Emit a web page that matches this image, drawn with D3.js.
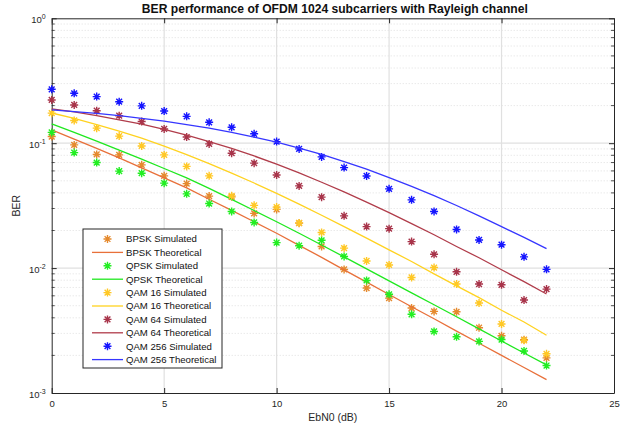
<!DOCTYPE html>
<html>
<head>
<meta charset="utf-8">
<script src="https://cdn.jsdelivr.net/npm/d3@7"></script>
<style>
  html, body { margin: 0; padding: 0; background: #fff; }
  svg { display: block; font-family: "Liberation Sans", Arial, sans-serif; }
</style>
</head>
<body>
<svg id="chart" width="622" height="428"></svg>
<script>
// Eb/N0 points (dB)
const ebn0 = [0,1,2,3,4,5,6,7,8,9,10,11,12,13,14,15,16,17,18,19,20,21,22];

// Simulated BER
const bpskSim   = [0.113,0.0969,0.0813,0.0806,0.0671,0.0548,0.0475,0.0377,0.0372,0.0274,0.0295,0.0229,0.0149,0.00975,0.00692,0.00575,0.00479,0.00450,0.00447,0.00333,0.00287,0.00267,0.00191];
const qpskSim   = [0.122,0.0841,0.0700,0.0598,0.0575,0.0479,0.0393,0.0329,0.0284,0.0232,0.0160,0.0151,0.0167,0.0124,0.00796,0.00617,0.00427,0.00311,0.00282,0.00259,0.00268,0.00217,0.00166];
const qam16Sim  = [0.174,0.152,0.132,0.114,0.0951,0.0806,0.0652,0.0548,0.0379,0.0318,0.0308,0.0230,0.0193,0.01445,0.0114,0.0106,0.00841,0.0101,0.00746,0.00525,0.00357,0.00264,0.00206];
const qam64Sim  = [0.222,0.2025,0.182,0.166,0.149,0.130,0.112,0.0987,0.0832,0.0692,0.0557,0.0455,0.0370,0.0262,0.0215,0.0207,0.0163,0.0129,0.00934,0.00745,0.00735,0.00555,0.00679];
const qam256Sim = [0.270,0.251,0.236,0.215,0.199,0.181,0.164,0.147,0.134,0.119,0.103,0.090,0.0777,0.0638,0.0547,0.0431,0.0352,0.0284,0.0204,0.0168,0.0154,0.0123,0.00977];

// Theoretical BER
const bpskTheory   = [0.128,0.108,0.0909,0.0763,0.0634,0.0528,0.0439,0.0356,0.0290,0.0235,0.0190,0.0152,0.0122,0.00969,0.00773,0.00615,0.00490,0.00393,0.00313,0.00250,0.00200,0.00160,0.00128];
const qpskTheory   = [0.143,0.122,0.104,0.0881,0.0745,0.0627,0.0528,0.0435,0.0355,0.0289,0.0235,0.0190,0.0153,0.0123,0.00987,0.00791,0.00634,0.00509,0.00408,0.00326,0.00261,0.00209,0.00168];
const qam16Theory  = [0.1745,0.158,0.141,0.125,0.110,0.0948,0.0811,0.0687,0.0576,0.0480,0.0396,0.0325,0.0265,0.0215,0.0174,0.0140,0.0113,0.0090,0.0072,0.0058,0.0046,0.0037,0.0029];
const qam64Theory  = [0.188,0.178,0.166,0.154,0.142,0.129,0.116,0.103,0.0908,0.0790,0.0680,0.0578,0.0487,0.0407,0.0337,0.0278,0.0227,0.0185,0.0149,0.0121,0.0097,0.0078,0.0062];
const qam256Theory = [0.185,0.179,0.173,0.166,0.158,0.150,0.141,0.132,0.122,0.112,0.102,0.0914,0.0812,0.0713,0.0619,0.0531,0.0451,0.0380,0.0317,0.0262,0.0215,0.0176,0.0143];

// Axis ticks
const xTicks = [0,5,10,15,20,25];
const yTicks = [1e-3,1e-2,1e-1,1];

// Series in legend order
const series = [
  {name:"BPSK Simulated",      kind:"sim",  values:bpskSim,      color:"#e58a2e"},
  {name:"BPSK Theoretical",    kind:"line", values:bpskTheory,   color:"#e8703a"},
  {name:"QPSK Simulated",      kind:"sim",  values:qpskSim,      color:"#22ee22"},
  {name:"QPSK Theoretical",    kind:"line", values:qpskTheory,   color:"#1fe81f"},
  {name:"QAM 16 Simulated",    kind:"sim",  values:qam16Sim,     color:"#ffc826"},
  {name:"QAM 16 Theoretical",  kind:"line", values:qam16Theory,  color:"#ffd21f"},
  {name:"QAM 64 Simulated",    kind:"sim",  values:qam64Sim,     color:"#a8344a"},
  {name:"QAM 64 Theoretical",  kind:"line", values:qam64Theory,  color:"#b03c4a"},
  {name:"QAM 256 Simulated",   kind:"sim",  values:qam256Sim,    color:"#1515ff"},
  {name:"QAM 256 Theoretical", kind:"line", values:qam256Theory, color:"#3636ff"}
];

const svg = d3.select("#chart");
const L = 51.7, R = 614, T = 18.3, B = 393;
const axisColor = "#262626";

const x = d3.scaleLinear().domain([0,25]).range([L,R]);
const y = d3.scaleLog().domain([1e-3,1]).range([B,T]);

// Minor log positions (2..9 per decade)
const minor = [];
[1e-3,1e-2,1e-1].forEach(d => { for (let k=2;k<=9;k++) minor.push(d*k); });

// Grid
const grid = svg.append("g");
grid.selectAll(".gm").data(minor).join("line")
  .attr("x1",L).attr("x2",R).attr("y1",d=>y(d)).attr("y2",d=>y(d))
  .attr("stroke","#d8d8d8").attr("stroke-width",0.8).attr("stroke-dasharray","1,2");
grid.selectAll(".gy").data([1e-2,1e-1]).join("line")
  .attr("x1",L).attr("x2",R).attr("y1",d=>y(d)).attr("y2",d=>y(d))
  .attr("stroke","#e0e0e0").attr("stroke-width",1.2);
grid.selectAll(".gx").data([5,10,15,20]).join("line")
  .attr("y1",T).attr("y2",B).attr("x1",d=>x(d)).attr("x2",d=>x(d))
  .attr("stroke","#e0e0e0").attr("stroke-width",1.2);

// Axes
function styleAxis(g){
  g.select(".domain").attr("stroke",axisColor);
  g.selectAll(".tick line").attr("stroke",axisColor);
  g.selectAll(".tick text").attr("fill",axisColor).attr("font-size",9.5)
    .attr("font-family","'Liberation Sans', Arial, sans-serif");
}
const gx = svg.append("g").attr("transform",`translate(0,${B})`)
  .call(d3.axisBottom(x).tickValues(xTicks).tickSizeInner(-5).tickSizeOuter(0).tickPadding(7).tickFormat(d3.format("d")));
styleAxis(gx);
const gxt = svg.append("g").attr("transform",`translate(0,${T})`)
  .call(d3.axisTop(x).tickValues(xTicks).tickSizeInner(-5).tickSizeOuter(0).tickFormat(""));
styleAxis(gxt);

const gy = svg.append("g").attr("transform",`translate(${L},0)`)
  .call(d3.axisLeft(y).tickValues(yTicks).tickSizeInner(-5).tickSizeOuter(0).tickPadding(6).tickFormat(""));
styleAxis(gy);
gy.selectAll(".tick text").each(function(d){
  const t = d3.select(this).attr("dy","0.45em");
  t.text(null);
  t.append("tspan").text("10");
  t.append("tspan").attr("dy",-4).attr("font-size",7).text(Math.round(Math.log10(d)));
});
const gyr = svg.append("g").attr("transform",`translate(${R},0)`)
  .call(d3.axisRight(y).tickValues(yTicks).tickSizeInner(-5).tickSizeOuter(0).tickFormat(""));
styleAxis(gyr);

// Minor y ticks on both sides
svg.append("g").selectAll("line").data(minor).join("line")
  .attr("x1",L).attr("x2",L+3).attr("y1",d=>y(d)).attr("y2",d=>y(d))
  .attr("stroke",axisColor).attr("stroke-width",0.8);
svg.append("g").selectAll("line").data(minor).join("line")
  .attr("x1",R).attr("x2",R-3).attr("y1",d=>y(d)).attr("y2",d=>y(d))
  .attr("stroke",axisColor).attr("stroke-width",0.8);

// Asterisk marker (plus + cross)
function asterisk(r){
  const a = r*0.72;
  return `M${-r},0H${r}M0,${-r}V${r}M${-a},${-a}L${a},${a}M${-a},${a}L${a},${-a}`;
}

const line = d3.line().x((d,i)=>x(ebn0[i])).y(d=>y(d));
const plot = svg.append("g");
series.forEach(s => {
  if (s.kind === "line") {
    plot.append("path").datum(s.values).attr("d",line)
      .attr("fill","none").attr("stroke",s.color).attr("stroke-width",1.3);
  } else {
    plot.append("g").selectAll("path").data(s.values).join("path")
      .attr("transform",(d,i)=>`translate(${x(ebn0[i])},${y(d)})`)
      .attr("d",asterisk(4)).attr("fill","none")
      .attr("stroke",s.color).attr("stroke-width",1.4);
  }
});

// Title and axis labels
svg.append("text").attr("x",(L+R)/2+2).attr("y",13).attr("text-anchor","middle")
  .attr("font-size",12).attr("font-weight","bold").attr("fill","#111")
  .attr("textLength",386).attr("lengthAdjust","spacingAndGlyphs")
  .text("BER performance of OFDM 1024 subcarriers with Rayleigh channel");
svg.append("text").attr("x",(L+R)/2).attr("y",421).attr("text-anchor","middle")
  .attr("font-size",10.5).attr("fill",axisColor).text("EbN0 (dB)");
svg.append("text").attr("transform",`translate(20,${(T+B)/2}) rotate(-90)`)
  .attr("text-anchor","middle").attr("font-size",10.5).attr("fill",axisColor).text("BER");

// Legend
const lg = svg.append("g");
const lx = 83, ly = 229, lw = 139, lh = 139, step = 13.4;
lg.append("rect").attr("x",lx).attr("y",ly).attr("width",lw).attr("height",lh)
  .attr("fill","#fff").attr("stroke",axisColor).attr("stroke-width",1);
series.forEach((s,k) => {
  const cy = ly + 10 + k*step;
  if (s.kind === "line") {
    lg.append("line").attr("x1",92).attr("x2",123).attr("y1",cy).attr("y2",cy)
      .attr("stroke",s.color).attr("stroke-width",1.3);
  } else {
    lg.append("path").attr("transform",`translate(107.5,${cy})`).attr("d",asterisk(4))
      .attr("fill","none").attr("stroke",s.color).attr("stroke-width",1.4);
  }
  lg.append("text").attr("x",126).attr("y",cy).attr("dy","0.35em")
    .attr("font-size",9.6).attr("fill","#111").text(s.name);
});
</script>
</body>
</html>
